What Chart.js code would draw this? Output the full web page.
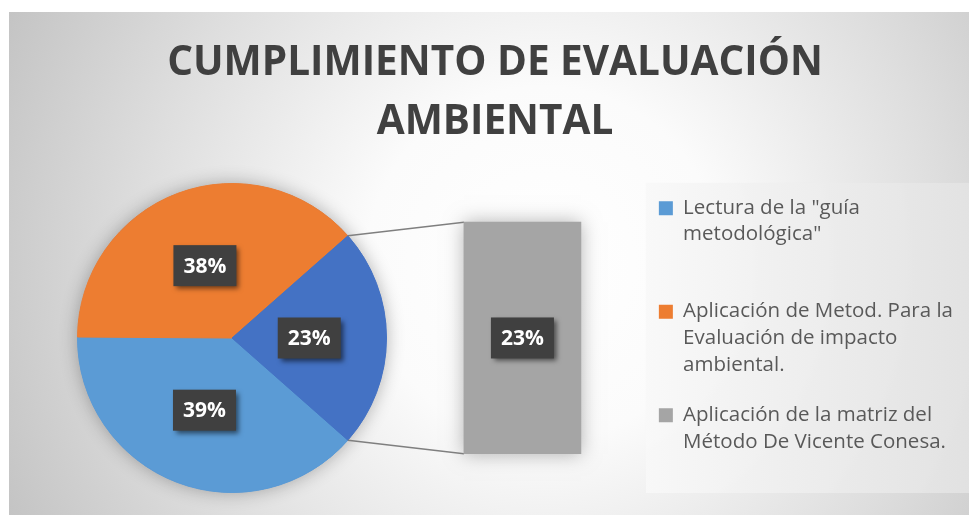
<!DOCTYPE html>
<html>
<head>
<meta charset="utf-8">
<script src="https://cdn.jsdelivr.net/npm/chart.js@4.4.1/dist/chart.umd.min.js"></script>
<style>
  html, body { margin: 0; padding: 0; background: #fff; overflow: hidden; width: 969px; height: 515px; }
  #frame { position: absolute; left: 9px; top: 12px; width: 972px; height: 503px;
    background: radial-gradient(circle farthest-corner at 55% 50%, #ffffff 0%, #fbfbfb 30%, #dedede 68%, #c4c4c4 100%); }
  #pieCanvas { position: absolute; left: 57px; top: 163px; }
  #barCanvas { position: absolute; left: 9px; top: 12px; }
</style>
</head>
<body>
<div id="frame"></div>
<canvas id="pieCanvas" width="350" height="350"></canvas>
<canvas id="barCanvas" width="972" height="503"></canvas>
<script>
const titleLines = ['CUMPLIMIENTO DE EVALUACIÓN', 'AMBIENTAL'];
const categories = [
  'Lectura de la "guía metodológica"',
  'Aplicación de Metod. Para la Evaluación de impacto ambiental.',
  'Aplicación de la matriz del Método De Vicente Conesa.'
];
// legend text as it is wrapped in the picture
const legendLines = [
  ['Lectura de la "guía', 'metodológica"', ''],
  ['Aplicación de Metod. Para la', 'Evaluación de impacto', 'ambiental.'],
  ['Aplicación de la matriz del', 'Método De Vicente Conesa.']
];
const values = [38.6, 38.4, 23.0];
const colors = ['#5B9BD5', '#ED7D31', '#A5A5A5'];
const otherColor = '#4472C4';
const barIndexes = [2]; // points moved into the bar

const total = values.reduce((a, b) => a + b, 0);
const pieValues = values.filter((v, i) => !barIndexes.includes(i));
const pieColors = colors.filter((c, i) => !barIndexes.includes(i));
const barValues = barIndexes.map(i => values[i]);
const barColors = barIndexes.map(i => colors[i]);
const otherValue = barValues.reduce((a, b) => a + b, 0);
pieValues.push(otherValue);
pieColors.push(otherColor);

function drawTag(ctx, x, y, text) {
  ctx.save();
  ctx.shadowColor = 'rgba(0,0,0,0.55)';
  ctx.shadowBlur = 5;
  ctx.shadowOffsetX = 3;
  ctx.shadowOffsetY = 3;
  ctx.fillStyle = '#404040';
  ctx.fillRect(x - 31.5, y - 20.5, 63, 41);
  ctx.restore();
  ctx.save();
  ctx.fillStyle = '#ffffff';
  ctx.font = 'bold 21px "Open Sans"';
  ctx.textAlign = 'center';
  ctx.textBaseline = 'middle';
  ctx.fillText(text, x, y + 1);
  ctx.restore();
}

const pieExtras = {
  id: 'pieExtras',
  beforeDatasetsDraw(chart) {
    // soft shadow under the whole pie
    const arc = chart.getDatasetMeta(0).data[0];
    const ctx = chart.ctx;
    ctx.save();
    ctx.shadowColor = 'rgba(0,0,0,0.3)';
    ctx.shadowBlur = 18;
    ctx.fillStyle = otherColor;
    ctx.beginPath();
    ctx.arc(arc.x, arc.y, arc.outerRadius, 0, Math.PI * 2);
    ctx.fill();
    ctx.restore();
  },
  afterDatasetsDraw(chart) {
    const data = chart.data.datasets[0].data;
    chart.getDatasetMeta(0).data.forEach((arc, i) => {
      const p = arc.getCenterPoint();
      drawTag(chart.ctx, p.x, p.y, Math.round(data[i] / total * 100) + '%');
    });
  }
};

const pieCanvas = document.getElementById('pieCanvas');
const pieChart = new Chart(pieCanvas, {
  type: 'pie',
  data: {
    labels: categories.filter((c, i) => !barIndexes.includes(i)).concat(['Otro']),
    datasets: [{
      data: pieValues,
      backgroundColor: pieColors,
      borderColor: pieColors,
      borderWidth: 1
    }]
  },
  options: {
    responsive: false,
    animation: false,
    rotation: 90 + otherValue / total * 180,
    layout: { padding: 20 },
    plugins: { legend: { display: false }, tooltip: { enabled: false } }
  },
  plugins: [pieExtras]
});

const barCanvas = document.getElementById('barCanvas');
const barExtras = {
  id: 'barExtras',
  beforeDraw(chart) {
    // legend panel
    const lg = chart.legend, ca = chart.chartArea, ctx = chart.ctx;
    const x0 = lg.left + 11, y0 = ca.top + 9, x1 = chart.width, y1 = ca.bottom;
    const g = ctx.createLinearGradient(x0, 0, x1, 0);
    g.addColorStop(0, 'rgba(248,248,248,0.9)');
    g.addColorStop(1, 'rgba(226,226,226,0.9)');
    ctx.fillStyle = g;
    ctx.fillRect(x0, y0, x1 - x0, y1 - y0);
  },
  beforeDatasetsDraw(chart) {
    const ctx = chart.ctx;
    const bar = chart.getDatasetMeta(0).data[0];
    const left = bar.x - bar.width / 2;
    ctx.save();
    ctx.shadowColor = 'rgba(0,0,0,0.3)';
    ctx.shadowBlur = 18;
    ctx.fillStyle = barColors[0];
    ctx.fillRect(left, bar.y, bar.width, bar.base - bar.y);
    ctx.restore();
    // connector lines from the "other" slice
    const arc = pieChart.getDatasetMeta(0).data[pieValues.length - 1];
    const dx = pieCanvas.offsetLeft - barCanvas.offsetLeft;
    const dy = pieCanvas.offsetTop - barCanvas.offsetTop;
    const r = arc.outerRadius;
    const cx = arc.x + dx, cy = arc.y + dy;
    ctx.save();
    ctx.strokeStyle = '#7f7f7f';
    ctx.lineWidth = 1.5;
    ctx.beginPath();
    ctx.moveTo(cx + r * Math.cos(arc.startAngle), cy + r * Math.sin(arc.startAngle));
    ctx.lineTo(left, bar.y);
    ctx.moveTo(cx + r * Math.cos(arc.endAngle), cy + r * Math.sin(arc.endAngle));
    ctx.lineTo(left, bar.base);
    ctx.stroke();
    ctx.restore();
  },
  afterDatasetsDraw(chart) {
    chart.getDatasetMeta(0).data.forEach((bar, i) => {
      drawTag(chart.ctx, bar.x, (bar.y + bar.base) / 2, Math.round(barValues[i] / total * 100) + '%');
    });
  }
};

const barChart = new Chart(barCanvas, {
  type: 'bar',
  data: {
    labels: barIndexes.map(i => categories[i]),
    datasets: [{
      data: barValues,
      backgroundColor: barColors,
      borderWidth: 0,
      barThickness: 117
    }]
  },
  options: {
    responsive: false,
    animation: false,
    layout: { padding: { left: 18, right: 18, top: 0, bottom: 22 } },
    plugins: {
      title: {
        display: true,
        text: titleLines,
        color: '#404040',
        font: { family: 'Open Sans', size: 40.5, weight: 'bold', lineHeight: 1.48 },
        padding: { top: 21, bottom: 21 }
      },
      legend: {
        position: 'right',
        align: 'start',
        fullSize: false,
        maxWidth: 400,
        labels: {
          boxWidth: 14,
          boxHeight: 14,
          padding: 24,
          color: '#595959',
          font: { family: 'Open Sans', size: 20.5, lineHeight: 1.293 },
          generateLabels: () => categories.map((c, i) => ({
            text: legendLines[i],
            fillStyle: colors[i],
            strokeStyle: colors[i],
            fontColor: '#595959',
            lineWidth: 0,
            hidden: false,
            index: i
          }))
        }
      },
      tooltip: { enabled: false }
    },
    scales: {
      x: { display: false },
      y: {
        min: -3.9,
        max: 27.8,
        ticks: { display: false },
        grid: { display: false },
        border: { display: false },
        afterFit(scale) { scale.width = 383; }
      }
    }
  },
  plugins: [barExtras]
});
</script>
</body>
</html>
